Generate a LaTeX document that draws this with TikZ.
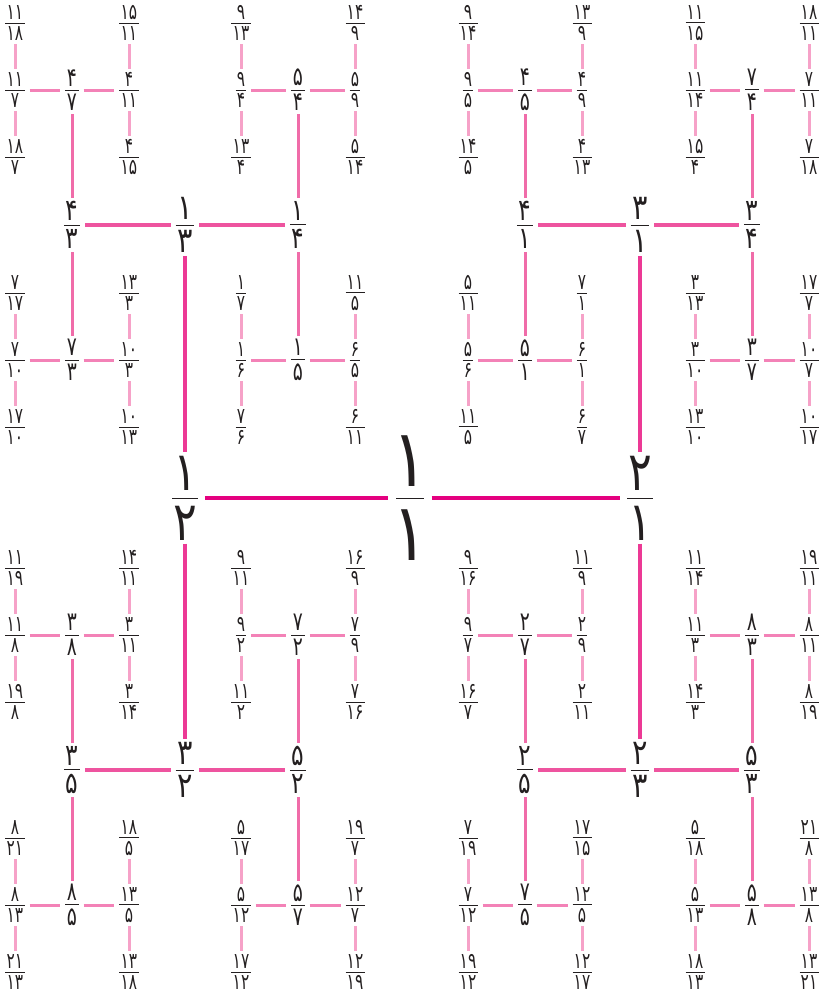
\documentclass[tikz,border=0pt]{standalone}
\usepackage{fontspec}
\newfontfamily\fadigits{DejaVu Sans}
\definecolor{linkA}{HTML}{E4007F}
\definecolor{linkB}{HTML}{EC3995}
\definecolor{linkC}{HTML}{EE549F}
\definecolor{linkD}{HTML}{F06CA9}
\definecolor{linkE}{HTML}{F382B7}
\definecolor{linkF}{HTML}{F6A2C8}
\definecolor{inkgray}{HTML}{231F20}
\setlength{\arrayrulewidth}{0.8pt}
\newlength{\frpad}
\newcommand{\frsq}{.82}
\newcommand{\fr}[2]{{\renewcommand{\arraystretch}{0}%
  \scalebox{\frsq}[1]{\begin{tabular}{@{\hspace{\frpad}}c@{\hspace{\frpad}}}#1\\[.14em]\hline\noalign{\vskip.14em}#2\end{tabular}}}}
\newcommand{\frp}[1]{\expandafter\fr#1}
\tikzset{
  frac/.style={inner xsep=3pt, inner ysep=1.5pt, outer sep=2pt, text=inkgray},
  lv0/.style={frac, inner xsep=6pt, font=\fadigits\fontsize{80}{96}\selectfont\setlength{\frpad}{-.06em}},
  lv1/.style={frac, inner xsep=5pt, font=\fadigits\fontsize{54}{64}\selectfont\setlength{\frpad}{.02em}},
  lv2/.style={frac, font=\fadigits\fontsize{35}{42}\selectfont\setlength{\frpad}{.06em}},
  lv3/.style={frac, font=\fadigits\fontsize{30}{36}\selectfont\setlength{\frpad}{.08em}\renewcommand{\frsq}{.78}},
  lv4/.style={frac, font=\fadigits\fontsize{26}{31}\selectfont\setlength{\frpad}{.08em}\renewcommand{\frsq}{.72}},
  lv5/.style={frac, font=\fadigits\fontsize{22}{26}\selectfont\setlength{\frpad}{.08em}\renewcommand{\frsq}{.7}},
  link0/.style={draw=linkA, line width=4pt},
  link1/.style={draw=linkB, line width=4pt},
  link2/.style={draw=linkC, line width=3.5pt},
  link3/.style={draw=linkD, line width=3pt},
  link4/.style={draw=linkE, line width=3pt},
  link5/.style={draw=linkF, line width=3pt}
}
\begin{document}
\begin{tikzpicture}[x=1pt, y=-1pt]
\useasboundingbox (0,0) rectangle (822,996);
% root and first levels
\node[lv0] (root) at (410,498) {\fr{۱}{۱}};
\node[lv1] (l) at (185,498) {\fr{۱}{۲}};
\node[lv1] (r) at (640,498) {\fr{۲}{۱}};
\node[lv2] (lu) at (185,225) {\fr{۱}{۳}};
\node[lv2] (ld) at (185,770) {\fr{۳}{۲}};
\node[lv2] (ru) at (640,225) {\fr{۳}{۱}};
\node[lv2] (rd) at (640,770) {\fr{۲}{۳}};
\node[lv3] (luA) at (72,225) {\fr{۴}{۳}};
\node[lv3] (luB) at (298,225) {\fr{۱}{۴}};
\node[lv3] (ruA) at (525,225) {\fr{۴}{۱}};
\node[lv3] (ruB) at (752,225) {\fr{۳}{۴}};
\node[lv3] (ldA) at (72,770) {\fr{۳}{۵}};
\node[lv3] (ldB) at (298,770) {\fr{۵}{۲}};
\node[lv3] (rdA) at (525,770) {\fr{۲}{۵}};
\node[lv3] (rdB) at (752,770) {\fr{۵}{۳}};
\draw[link0] (l) -- (root) (root) -- (r);
\draw[link1] (lu) -- (l) (l) -- (ld) (ru) -- (r) (r) -- (rd);
\draw[link2] (luA) -- (lu) (lu) -- (luB) (ruA) -- (ru) (ru) -- (ruB)
  (ldA) -- (ld) (ld) -- (ldB) (rdA) -- (rd) (rd) -- (rdB);
% the small H's
\foreach \p/\x/\y/\c/\a/\b/\au/\ad/\bu/\bd [count=\i] in {
  luA/72/90/{۴}{۷}/{۱۱}{۷}/{۴}{۱۱}/{۱۱}{۱۸}/{۱۸}{۷}/{۱۵}{۱۱}/{۴}{۱۵},
  luB/298/90/{۵}{۴}/{۹}{۴}/{۵}{۹}/{۹}{۱۳}/{۱۳}{۴}/{۱۴}{۹}/{۵}{۱۴},
  ruA/525/90/{۴}{۵}/{۹}{۵}/{۴}{۹}/{۹}{۱۴}/{۱۴}{۵}/{۱۳}{۹}/{۴}{۱۳},
  ruB/752/90/{۷}{۴}/{۱۱}{۱۴}/{۷}{۱۱}/{۱۱}{۱۵}/{۱۵}{۴}/{۱۸}{۱۱}/{۷}{۱۸},
  luA/72/360/{۷}{۳}/{۷}{۱۰}/{۱۰}{۳}/{۷}{۱۷}/{۱۷}{۱۰}/{۱۳}{۳}/{۱۰}{۱۳},
  luB/298/360/{۱}{۵}/{۱}{۶}/{۶}{۵}/{۱}{۷}/{۷}{۶}/{۱۱}{۵}/{۶}{۱۱},
  ruA/525/360/{۵}{۱}/{۵}{۶}/{۶}{۱}/{۵}{۱۱}/{۱۱}{۵}/{۷}{۱}/{۶}{۷},
  ruB/752/360/{۳}{۷}/{۳}{۱۰}/{۱۰}{۷}/{۳}{۱۳}/{۱۳}{۱۰}/{۱۷}{۷}/{۱۰}{۱۷},
  ldA/72/635/{۳}{۸}/{۱۱}{۸}/{۳}{۱۱}/{۱۱}{۱۹}/{۱۹}{۸}/{۱۴}{۱۱}/{۳}{۱۴},
  ldB/298/635/{۷}{۲}/{۹}{۲}/{۷}{۹}/{۹}{۱۱}/{۱۱}{۲}/{۱۶}{۹}/{۷}{۱۶},
  rdA/525/635/{۲}{۷}/{۹}{۷}/{۲}{۹}/{۹}{۱۶}/{۱۶}{۷}/{۱۱}{۹}/{۲}{۱۱},
  rdB/752/635/{۸}{۳}/{۱۱}{۳}/{۸}{۱۱}/{۱۱}{۱۴}/{۱۴}{۳}/{۱۹}{۱۱}/{۸}{۱۹},
  ldA/72/905/{۸}{۵}/{۸}{۱۳}/{۱۳}{۵}/{۸}{۲۱}/{۲۱}{۱۳}/{۱۸}{۵}/{۱۳}{۱۸},
  ldB/298/905/{۵}{۷}/{۵}{۱۲}/{۱۲}{۷}/{۵}{۱۷}/{۱۷}{۱۲}/{۱۹}{۷}/{۱۲}{۱۹},
  rdA/525/905/{۷}{۵}/{۷}{۱۲}/{۱۲}{۵}/{۷}{۱۹}/{۱۹}{۱۲}/{۱۷}{۱۵}/{۱۲}{۱۷},
  rdB/752/905/{۵}{۸}/{۵}{۱۳}/{۱۳}{۸}/{۵}{۱۸}/{۱۸}{۱۳}/{۲۱}{۸}/{۱۳}{۲۱}} {
  \node[lv4] (g\i) at (\x,\y) {\frp\c};
  \node[lv5] (g\i-a) at (\x-57,\y) {\frp\a};
  \node[lv5] (g\i-b) at (\x+57,\y) {\frp\b};
  \node[lv5] (g\i-au) at (\x-57,\y-67) {\frp\au};
  \node[lv5] (g\i-ad) at (\x-57,\y+67) {\frp\ad};
  \node[lv5] (g\i-bu) at (\x+57,\y-67) {\frp\bu};
  \node[lv5] (g\i-bd) at (\x+57,\y+67) {\frp\bd};
  \draw[link3] (\p) -- (g\i);
  \draw[link4] (g\i-a) -- (g\i) (g\i) -- (g\i-b);
  \draw[link5] (g\i-au) -- (g\i-a) (g\i-a) -- (g\i-ad)
    (g\i-bu) -- (g\i-b) (g\i-b) -- (g\i-bd);
}
\end{tikzpicture}
\end{document}
